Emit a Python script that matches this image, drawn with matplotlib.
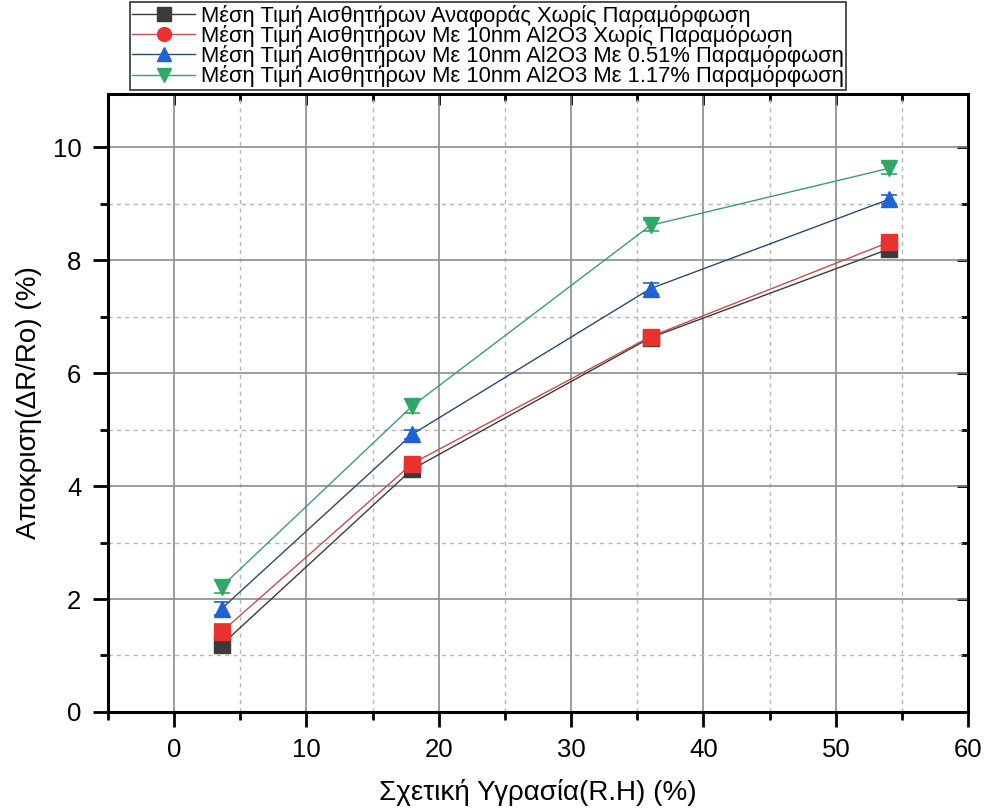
import matplotlib.pyplot as plt
from matplotlib.lines import Line2D
from matplotlib.ticker import MultipleLocator

plt.rcParams["font.family"] = ["Liberation Sans", "DejaVu Sans"]

# relative humidity (%)
rh = [3.6, 18.0, 36.0, 54.0]

ref_mean = [1.19, 4.30, 6.63, 8.20]
ref_err = [0.10, 0.10, 0.08, 0.08]

al2o3_mean = [1.42, 4.40, 6.65, 8.32]
al2o3_err = [0.14, 0.10, 0.08, 0.08]

strain051_mean = [1.83, 4.92, 7.50, 9.08]
strain051_err = [0.12, 0.08, 0.10, 0.08]

strain117_mean = [2.22, 5.42, 8.62, 9.63]
strain117_err = [0.12, 0.12, 0.10, 0.10]

labels = [
    "Μέση Τιμή Αισθητήρων Αναφοράς Χωρίς Παραμόρφωση",
    "Μέση Τιμή Αισθητήρων Με 10nm Al2O3 Χωρίς Παραμόρωση",
    "Μέση Τιμή Αισθητήρων Με 10nm Al2O3 Με 0.51% Παραμόρφωση",
    "Μέση Τιμή Αισθητήρων Με 10nm Al2O3 Με 1.17% Παραμόρφωση",
]

series = [
    (ref_mean, ref_err, "s", "#3b3b3b", "#3b3b3b", "s"),
    (al2o3_mean, al2o3_err, "s", "#e8322f", "#c0504d", "o"),
    (strain051_mean, strain051_err, "^", "#1c63d6", "#2a4a6e", "^"),
    (strain117_mean, strain117_err, "v", "#2fa866", "#3f9a7a", "v"),
]

fig = plt.figure(figsize=(9.89, 8.09), dpi=100)
ax = fig.add_axes([0.109, 0.120, 0.870, 0.764])

handles = []
for (mean, err, mk, mcol, lcol, legmk), lab in zip(series, labels):
    ax.plot(rh, mean, color=lcol, lw=1.0, zorder=3)
    ax.errorbar(rh, mean, yerr=err, fmt=mk, ms=11, color=mcol, ecolor=mcol,
                elinewidth=1.2, capsize=6, capthick=1.2, zorder=4)
    handles.append(Line2D([], [], color=lcol, lw=1.0, marker=legmk, ms=10,
                          markerfacecolor=mcol, markeredgecolor=mcol))

ax.set_xlim(-5, 60)
ax.set_ylim(0, 10.95)
ax.xaxis.set_major_locator(MultipleLocator(10))
ax.xaxis.set_minor_locator(MultipleLocator(5))
ax.yaxis.set_major_locator(MultipleLocator(2))
ax.yaxis.set_minor_locator(MultipleLocator(1))

ax.grid(which="major", color="#8c8c8c", lw=1.2, ls="-")
ax.grid(which="minor", color="#b5b5b5", lw=1.0, ls=(0, (3, 3)))
ax.set_axisbelow(True)

for s in ax.spines.values():
    s.set_linewidth(2.2)

ax.tick_params(which="both", direction="out", width=2.0, labelsize=18.5,
               top=False, right=False)
ax.tick_params(which="major", length=11, pad=8)
ax.tick_params(which="minor", length=6)

# mirrored inward ticks on top and right
top_ax = ax.secondary_xaxis("top")
right_ax = ax.secondary_yaxis("right")
top_ax.xaxis.set_major_locator(MultipleLocator(10))
top_ax.xaxis.set_minor_locator(MultipleLocator(5))
right_ax.yaxis.set_major_locator(MultipleLocator(2))
right_ax.yaxis.set_minor_locator(MultipleLocator(1))
for sec in (top_ax, right_ax):
    sec.tick_params(which="both", direction="in", width=2.0,
                    labeltop=False, labelright=False)
    sec.tick_params(which="major", length=8)
    sec.tick_params(which="minor", length=5)
    for s in sec.spines.values():
        s.set_visible(False)

ax.set_xlabel("Σχετική Υγρασία(R.H) (%)", fontsize=20, labelpad=12)
ax.set_ylabel("Αποκριση(ΔR/Ro) (%)", fontsize=20, labelpad=8)

leg = fig.legend(handles, labels, loc="upper left",
                 bbox_to_anchor=(0.131, 0.997), fontsize=15.8,
                 frameon=True, fancybox=False, edgecolor="black",
                 handlelength=2.9, handletextpad=0.25, labelspacing=-0.08,
                 borderpad=0.1, borderaxespad=0)
leg.get_frame().set_linewidth(1.2)
leg.set_zorder(10)

fig.savefig("out.png", dpi=100)
